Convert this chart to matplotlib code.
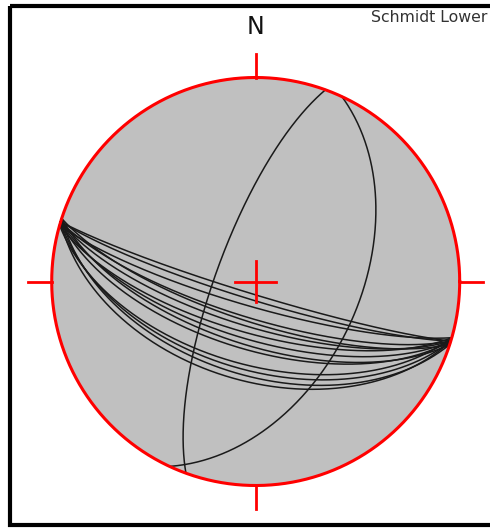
#!/usr/bin/env python
# -*- coding: utf-8 -*-
import matplotlib

matplotlib.use("Agg")
import matplotlib.pyplot as plt
import numpy as np


####################################################
# Planes (dip direction / dip, degrees)

# main set, dipping SSW
set_dipdir = [197, 197, 196, 197, 198, 197, 196, 197, 198, 197, 196, 197, 198, 197]
set_dip = [84.9, 82.6, 79.9, 75.4, 73.9, 71.9, 69.3, 66.9, 64.6, 62.7, 56.5, 54.5, 52.3, 49.8]

# two single planes
other_dipdir = [290, 115]
other_dip = [74, 48]

net_title = "Schmidt Lower"
north_label = "N"

# net placement in pixels
cx, cy = 255.7, 281.5
radius = 204.0


def to_px(x, y):
    # unit-circle coordinates (east, north) -> pixel coordinates
    return cx + radius * np.asarray(x), cy - radius * np.asarray(y)


def great_circle(dipdir, dip, n=361):
    # equal-area lower hemisphere trace of a plane
    dd = np.radians(dipdir)
    d = np.radians(dip)
    s = dd - np.pi / 2
    strike_vec = np.array([np.sin(s), np.cos(s), 0.0])
    dip_vec = np.array([np.cos(d) * np.sin(dd), np.cos(d) * np.cos(dd), np.sin(d)])
    lam = np.linspace(0, np.pi, n)
    v = np.outer(np.cos(lam), strike_vec) + np.outer(np.sin(lam), dip_vec)
    trend = np.arctan2(v[:, 0], v[:, 1])
    plunge = np.arcsin(np.clip(v[:, 2], -1, 1))
    r = np.sqrt(2) * np.sin((np.pi / 2 - plunge) / 2)
    return r * np.sin(trend), r * np.cos(trend)


fig = plt.figure(figsize=(4.9, 5.29), dpi=100)
ax = fig.add_axes([0, 0, 1, 1])
ax.set_xlim(0, 490)
ax.set_ylim(529, 0)
ax.axis("off")

# frame
ax.add_patch(
    plt.Rectangle((10, 6), 500, 519, fill=False, edgecolor="black", linewidth=3.0)
)

# primitive circle
t = np.linspace(0, 2 * np.pi, 720)
px, py = to_px(np.cos(t), np.sin(t))
ax.fill(px, py, color="#c0c0c0", zorder=1)

# great circles
for ddir, dp in zip(set_dipdir + other_dipdir, set_dip + other_dip):
    gx, gy = great_circle(ddir, dp)
    qx, qy = to_px(gx, gy)
    ax.plot(qx, qy, color="#1a1a1a", linewidth=1.1, zorder=2)

ax.plot(px, py, color="#ff0000", linewidth=2.2, zorder=3)

# cardinal ticks
tick = 0.115
for ex, ey in [(0, 1), (1, 0), (0, -1), (-1, 0)]:
    kx, ky = to_px([ex, ex * (1 + tick)], [ey, ey * (1 + tick)])
    ax.plot(kx, ky, color="#ff0000", linewidth=2.0, zorder=3)

# centre cross
c = 0.1
kx, ky = to_px([-c, c], [0, 0])
ax.plot(kx, ky, color="#ff0000", linewidth=2.0, zorder=3)
kx, ky = to_px([0, 0], [-c, c])
ax.plot(kx, ky, color="#ff0000", linewidth=2.0, zorder=3)

ax.text(cx, 26.5, north_label, ha="center", va="center", fontsize=17, color="#111111")
ax.text(487, 18, net_title, ha="right", va="center", fontsize=11.3, color="#333333")

plt.savefig("out.png", dpi=100)
plt.close("all")
